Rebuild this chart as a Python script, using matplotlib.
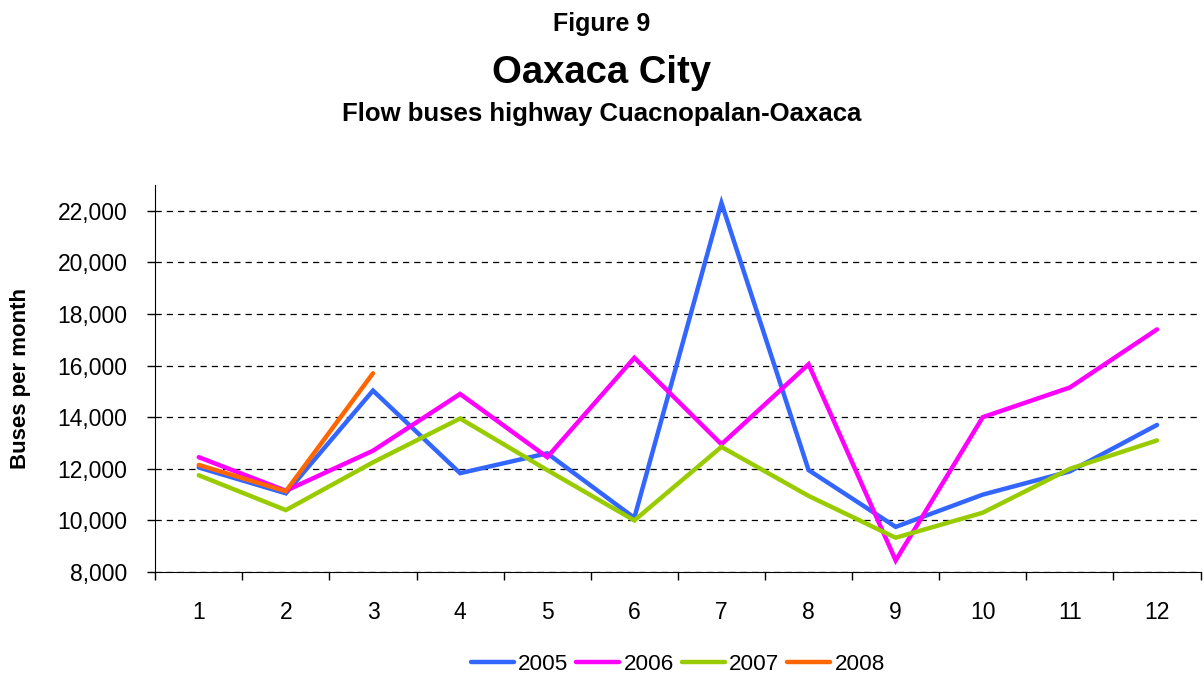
import matplotlib.pyplot as plt
import matplotlib.ticker as mticker

plt.rcParams['font.family'] = ['Liberation Sans', 'DejaVu Sans']

# --- Data ---
MONTHS = [1, 2, 3, 4, 5, 6, 7, 8, 9, 10, 11, 12]
BUSES_2005 = [12050, 11050, 15030, 11830, 12600, 10100, 22300, 11950, 9750, 11000, 11900, 13700]
BUSES_2006 = [12450, 11150, 12700, 14900, 12450, 16300, 12950, 16050, 8450, 14000, 15150, 17400]
BUSES_2007 = [11750, 10400, 12250, 13950, 11950, 10000, 12850, 10950, 9330, 10300, 12000, 13100]
BUSES_2008 = [12150, 11130, 15700]

SERIES = [
    ('2005', BUSES_2005, '#3366FF'),
    ('2006', BUSES_2006, '#FF00FF'),
    ('2007', BUSES_2007, '#99CC00'),
    ('2008', BUSES_2008, '#FF6600'),
]

AX_RECT = [0.129, 0.155, 0.869, 0.572]

fig = plt.figure(figsize=(12.03, 6.77), dpi=100)
ax = fig.add_axes(AX_RECT)

for label, values, color in SERIES:
    ax.plot(MONTHS[:len(values)], values, color=color, linewidth=3.2,
            label=label, solid_joinstyle='miter', solid_capstyle='round')

ax.set_xlim(0.5, 12.5)
ax.set_ylim(8000, 23000)
ax.set_yticks(range(8000, 22001, 2000))
ax.yaxis.set_major_formatter(mticker.FuncFormatter(lambda v, p: f'{int(v):,}'))
ax.set_xticks(MONTHS)
ax.set_xticks([m + 0.5 for m in range(0, 13)], minor=True)
ax.tick_params(axis='x', which='major', length=0, labelsize=16.5, pad=21)
ax.tick_params(axis='x', which='minor', length=6, width=1)
ax.tick_params(axis='y', length=6, width=1, labelsize=16.5, pad=14)

ax.grid(axis='y', color='black', linestyle=(0, (5, 4)), linewidth=0.9)
ax.spines['top'].set_visible(False)
ax.spines['right'].set_visible(False)

ax.set_ylabel('Buses per month', fontsize=16, fontweight='bold', labelpad=19)

fig.text(0.5, 0.954, 'Figure 9', ha='center', va='baseline', fontsize=18, fontweight='bold')
fig.text(0.5, 0.877, 'Oaxaca City', ha='center', va='baseline', fontsize=27.5, fontweight='bold')
fig.text(0.5, 0.821, 'Flow buses highway Cuacnopalan-Oaxaca', ha='center', va='baseline',
         fontsize=18.5, fontweight='bold')

# legend centred under the plot area
ax.legend(loc='center', bbox_to_anchor=(AX_RECT[0] + AX_RECT[2] / 2, 0.019),
          bbox_transform=fig.transFigure, ncol=4, frameon=False, fontsize=16.2,
          handlelength=1.9, columnspacing=0.35, handletextpad=0.2)

fig.savefig('out.png', dpi=100)
